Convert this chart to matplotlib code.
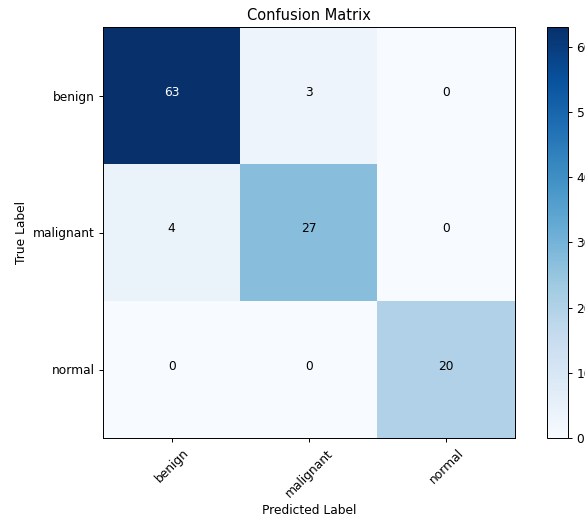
import numpy as np
import matplotlib.pyplot as plt

classes = ['benign', 'malignant', 'normal']
cm = np.array([[63, 3, 0],
               [4, 27, 0],
               [0, 0, 20]])

W, H, DPI = 585, 517, 88
fig = plt.figure(figsize=(W / DPI, H / DPI), dpi=DPI)
ax = fig.add_axes([103 / W, (H - 438) / H, 412 / W, 411 / H])
cax = fig.add_axes([547 / W, (H - 438) / H, 21 / W, 411 / H])

im = ax.imshow(cm, interpolation='nearest', cmap=plt.cm.Blues, aspect='auto')
ax.set_title('Confusion Matrix')
fig.colorbar(im, cax=cax)

tick_marks = np.arange(len(classes))
ax.set_xticks(tick_marks)
ax.set_xticklabels(classes, rotation=45)
ax.set_yticks(tick_marks)
ax.set_yticklabels(classes)

thresh = cm.max() / 2.
for i in range(cm.shape[0]):
    for j in range(cm.shape[1]):
        ax.text(j, i, format(cm[i, j], 'd'),
                horizontalalignment='center',
                color='white' if cm[i, j] > thresh else 'black')

ax.set_ylabel('True Label')
ax.set_xlabel('Predicted Label')
fig.savefig('out.png', dpi=DPI)
